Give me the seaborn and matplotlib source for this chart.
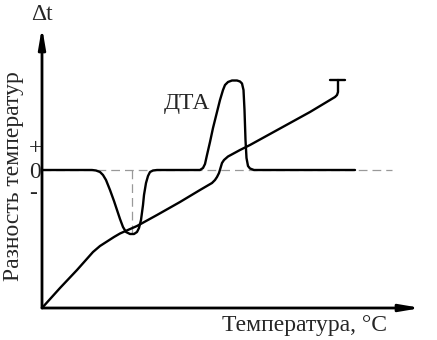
import matplotlib
matplotlib.use("Agg")
import matplotlib.pyplot as plt
import seaborn as sns
import pandas as pd

sns.set_theme(style="white")
plt.rcParams['font.family'] = ['Liberation Serif', 'DejaVu Serif']

# DTA curve (temperature axis, temperature difference axis), zero level at 138
dta_x = [0, 50, 54, 58, 61, 64, 68, 72, 75, 78, 81, 84, 88, 92, 95, 97, 99, 101,
         102, 104, 106, 108, 111, 115,
         158, 161, 163, 165, 168, 171, 175, 178, 181, 183, 186, 190, 195, 198,
         200, 201.5, 202.5, 203.5, 204.5, 206, 208, 212, 313]
dta_y = [138, 138, 137.5, 136, 133, 128, 118, 107, 98, 89, 81, 76, 74, 74, 76, 80, 88, 103,
         113, 125, 132, 136, 137.5, 138,
         138, 140, 144, 153, 166, 180, 196, 208, 218, 223, 226, 227.5, 227.5, 226.5,
         224.5, 218, 198, 168, 150, 142, 139.5, 138, 138]

# Sample temperature curve T
t_x = [0, 18, 35, 51, 58, 65, 72, 78, 87, 95, 115, 138, 158, 170, 173, 175, 177,
       178.5, 180, 182, 186, 198, 208, 228, 248, 268, 283, 293, 295, 296, 296]
t_y = [0, 20, 38, 56, 62, 66.5, 71, 74.5, 78.5, 82, 93, 106, 118, 125, 128, 131, 135,
       140, 145, 148, 151.5, 158, 163, 174, 185, 196, 205, 211, 213, 216, 228]

zero_level = 138
dip_x = 90
dip_y = 75

fig = plt.figure(figsize=(4.37, 3.40), dpi=100)
ax = fig.add_axes([0, 0, 1, 1])
ax.set_xlim(-42, 395)
ax.set_ylim(-32, 308)
ax.axis('off')

# dashed reference lines
ax.plot([0, 350], [zero_level, zero_level], ls=(0, (7, 4)), color='#999999', lw=0.9)
ax.plot([dip_x, dip_x], [zero_level, dip_y], ls=(0, (7, 4)), color='#999999', lw=0.9)

df_dta = pd.DataFrame({'x': dta_x, 'y': dta_y})
df_t = pd.DataFrame({'x': t_x, 'y': t_y})
sns.lineplot(data=df_dta, x='x', y='y', sort=False, estimator=None, color='black', lw=1.7, ax=ax)
sns.lineplot(data=df_t, x='x', y='y', sort=False, estimator=None, color='black', lw=1.7, ax=ax)
ax.plot([288, 303], [228, 228], color='black', lw=1.7)

# axes arrows
arrow = dict(arrowstyle='-|>,head_length=1.0,head_width=0.17', color='black', lw=2,
             shrinkA=0, shrinkB=0)
ax.annotate('', xy=(0, 281), xytext=(0, 0), arrowprops=arrow)
ax.annotate('', xy=(379, 0), xytext=(0, 0), arrowprops=arrow)

fs = 17
ax.text(0, 294, 'Δt', ha='center', va='center', fontsize=fs)
ax.text(-28, 132, 'Разность температур', rotation=90, ha='center', va='center', fontsize=fs)
ax.text(-7, 159, '+', ha='center', va='center', fontsize=fs)
ax.text(-7, 135, '0', ha='center', va='center', fontsize=fs)
ax.text(-9, 114, '-', ha='center', va='center', fontsize=fs)
ax.text(145, 205, 'ДТА', ha='center', va='center', fontsize=fs)
ax.text(262, -18, 'Температура, °C', ha='center', va='center', fontsize=fs)

fig.savefig('out.png', dpi=100)
